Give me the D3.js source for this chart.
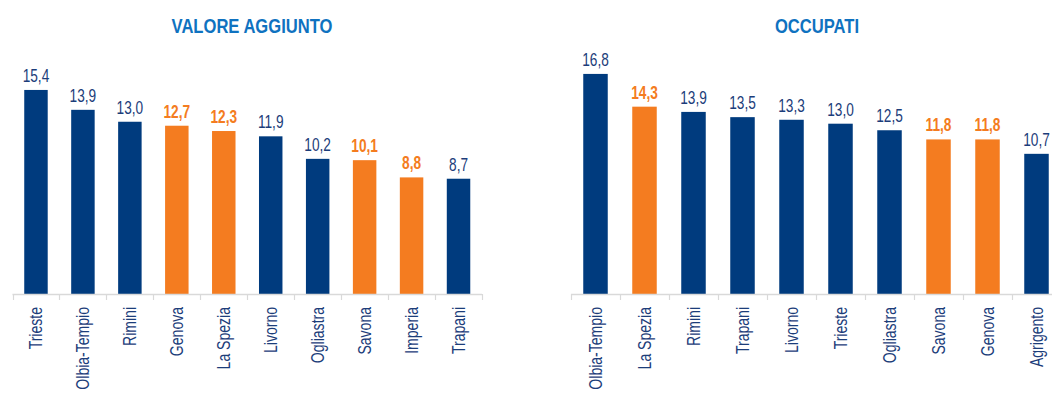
<!DOCTYPE html>
<html>
<head>
<meta charset="utf-8">
<script src="https://cdn.jsdelivr.net/npm/d3@7"></script>
<style>
  html, body { margin: 0; padding: 0; background: #fff; }
  svg { display: block; }
  text { font-family: "Liberation Sans", Arial, sans-serif; }
</style>
</head>
<body>
<svg id="chart" width="1052" height="412"></svg>
<script>
// Valore aggiunto
const vaCategories = ["Trieste", "Olbia-Tempio", "Rimini", "Genova", "La Spezia", "Livorno", "Ogliastra", "Savona", "Imperia", "Trapani"];
const vaValues = [15.4, 13.9, 13.0, 12.7, 12.3, 11.9, 10.2, 10.1, 8.8, 8.7];
const vaHighlight = [false, false, false, true, true, false, false, true, true, false];

// Occupati
const occCategories = ["Olbia-Tempio", "La Spezia", "Rimini", "Trapani", "Livorno", "Trieste", "Ogliastra", "Savona", "Genova", "Agrigento"];
const occValues = [16.8, 14.3, 13.9, 13.5, 13.3, 13.0, 12.5, 11.8, 11.8, 10.7];
const occHighlight = [false, true, false, false, false, false, false, true, true, false];

const titles = ["VALORE AGGIUNTO", "OCCUPATI"];

const NAVY = "#003b7e";
const ORANGE = "#f47c20";
const TITLE_BLUE = "#0f72c0";
const LABEL_NAVY = "#1c3d7a";

const svg = d3.select("#chart");
const baseY = 294;

function panel(cfg) {
  const g = svg.append("g");
  const data = cfg.categories.map((c, i) => ({ c, v: cfg.values[i], h: cfg.highlight[i] }));

  const x = d3.scaleBand()
    .domain(cfg.categories)
    .range([cfg.x0, cfg.x1])
    .paddingInner(0.5)
    .paddingOuter(0.25);

  const y = d3.scaleLinear()
    .domain([0, cfg.yMax])
    .range([baseY, baseY - cfg.yMax * cfg.pxPerUnit]);

  // title (condensed bold)
  g.append("text")
    .attr("transform", `translate(${cfg.titleX},33) scale(0.79,1)`)
    .attr("text-anchor", "middle")
    .attr("font-size", 21)
    .attr("font-weight", "bold")
    .attr("fill", TITLE_BLUE)
    .text(cfg.title);

  // bars
  g.selectAll("rect.bar")
    .data(data)
    .join("rect")
    .attr("class", "bar")
    .attr("x", d => x(d.c))
    .attr("width", x.bandwidth())
    .attr("y", d => y(d.v))
    .attr("height", d => baseY - y(d.v))
    .attr("fill", d => d.h ? ORANGE : NAVY);

  // value labels
  const fmt = v => d3.format(".1f")(v).replace(".", ",");
  g.selectAll("text.val")
    .data(data)
    .join("text")
    .attr("class", "val")
    .attr("transform", d => `translate(${x(d.c) + x.bandwidth() / 2},${y(d.v) - 8}) scale(0.76,1)`)
    .attr("text-anchor", "middle")
    .attr("font-size", 18)
    .attr("font-weight", d => d.h ? "bold" : "normal")
    .attr("fill", d => d.h ? ORANGE : LABEL_NAVY)
    .text(d => fmt(d.v));

  // baseline axis with tick marks between categories
  const step = x.step();
  const start = cfg.x0;
  g.append("line")
    .attr("x1", cfg.x0).attr("x2", cfg.x1)
    .attr("y1", baseY + 0.5).attr("y2", baseY + 0.5)
    .attr("stroke", "#d9d9d9").attr("stroke-width", 1.5);
  g.selectAll("line.tick")
    .data(d3.range(cfg.categories.length + 1))
    .join("line")
    .attr("class", "tick")
    .attr("x1", i => Math.round(start + i * step) + 0.5)
    .attr("x2", i => Math.round(start + i * step) + 0.5)
    .attr("y1", baseY)
    .attr("y2", baseY + 6)
    .attr("stroke", "#d9d9d9").attr("stroke-width", 1.2);

  // category labels (rotated, condensed)
  g.selectAll("text.cat")
    .data(data)
    .join("text")
    .attr("class", "cat")
    .attr("transform", d => `translate(${x(d.c) + x.bandwidth() / 2},307) rotate(-90) scale(0.78,1)`)
    .attr("text-anchor", "end")
    .attr("dy", "0.35em")
    .attr("font-size", 18)
    .attr("fill", LABEL_NAVY)
    .text(d => d.c);
}

panel({ categories: vaCategories, values: vaValues, highlight: vaHighlight, title: titles[0],
        x0: 12.5, x1: 482, yMax: 16, pxPerUnit: 13.25, titleX: 252 });
panel({ categories: occCategories, values: occValues, highlight: occHighlight, title: titles[1],
        x0: 571, x1: 1061, yMax: 17, pxPerUnit: 13.1, titleX: 817 });
</script>
</body>
</html>
